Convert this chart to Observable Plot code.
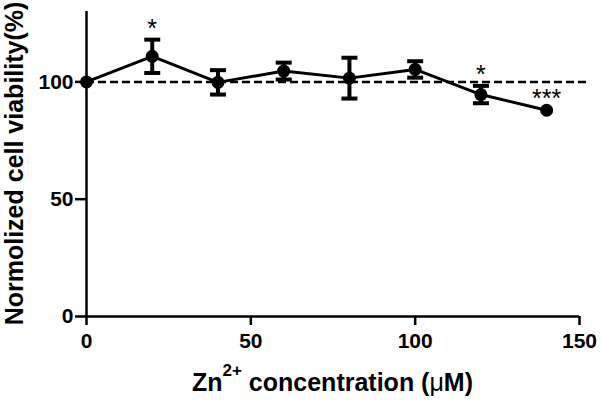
<!DOCTYPE html>
<html><head><meta charset="utf-8">
<script src="https://cdn.jsdelivr.net/npm/d3@7"></script>
<script src="https://cdn.jsdelivr.net/npm/@observablehq/plot@0.6"></script>
<style>body{margin:0;background:#fff;}</style>
</head><body><div id="chart"></div>
<script>
const concentrations = [0, 20, 40, 60, 80, 100, 120, 140];
const viability = [100, 110.9, 99.8, 104.6, 101.6, 105.3, 94.6, 87.9];
const sdValues = [0, 7.1, 5.2, 3.6, 8.7, 3.5, 3.7, 0];
const starX = [20, 120, 140];
const starLabels = ["*", "*", "***"];
const xTicks = [0, 50, 100, 150];
const yTicks = [0, 50, 100];
const refValue = 100;
const refStart = 0;
const refEnd = 152.5;
const yLabel = "Normolized cell viability(%)";
const xLabelMain = "Zn";
const xLabelSup = "2+";
const xLabelRest = " concentration (";
const xLabelMu = "\u03bc";
const xLabelEnd = "M)";

const data = concentrations.map((x, i) => ({x, y: viability[i], sd: sdValues[i]}));
const errData = data.filter(d => d.sd > 0);
const stars = starX.map((x, i) => {
  const d = data.find(e => e.x === x);
  return {x, y: d.y + d.sd, label: starLabels[i]};
});
const cap = {draw(ctx, size) { const w = Math.sqrt(size / Math.PI); ctx.moveTo(-w, 0); ctx.lineTo(w, 0); }};

const plot = Plot.plot({
  width: 601, height: 401,
  marginLeft: 86, marginRight: 22, marginTop: 11, marginBottom: 85,
  style: {fontFamily: "'Liberation Sans', Arial, sans-serif", fontSize: "21px", fontWeight: "bold", background: "#fff", color: "#000"},
  x: {domain: [0, 150]},
  y: {domain: [0, 130]},
  marks: [
    Plot.ruleY([refValue], {x1: refStart, x2: refEnd, stroke: "#000", strokeWidth: 2.5, strokeDasharray: "8,4"}),
    Plot.axisX({ticks: xTicks, tickSize: 9, tickPadding: 8, strokeWidth: 2.5, label: null, fontSize: 21, fontWeight: "bold"}),
    Plot.axisY({ticks: yTicks, tickSize: 11, tickPadding: 2, strokeWidth: 2.5, label: null, fontSize: 21, fontWeight: "bold"}),
    Plot.ruleX([0], {stroke: "#000", strokeWidth: 2.5}),
    Plot.ruleY([0], {stroke: "#000", strokeWidth: 2.5}),
    Plot.ruleX(errData, {x: "x", y1: d => d.y - d.sd, y2: d => d.y + d.sd, stroke: "#000", strokeWidth: 4}),
    Plot.dot(errData, {x: "x", y: d => d.y + d.sd, symbol: cap, r: 8, stroke: "#000", strokeWidth: 4}),
    Plot.dot(errData, {x: "x", y: d => d.y - d.sd, symbol: cap, r: 8, stroke: "#000", strokeWidth: 4}),
    Plot.line(data, {x: "x", y: "y", stroke: "#000", strokeWidth: 3}),
    Plot.dot(data, {x: "x", y: "y", r: 6.5, fill: "#000"}),
    Plot.text(stars, {x: "x", y: "y", text: "label", dy: -11, fontSize: 25, fontWeight: "normal", fill: "#000"})
  ]
});

const svg = d3.select(plot);
svg.append("text")
  .attr("transform", "translate(23,163.5) rotate(-90)")
  .attr("text-anchor", "middle")
  .attr("font-size", 25)
  .attr("font-weight", "bold")
  .attr("fill", "#000")
  .text(yLabel);
const xl = svg.append("text")
  .attr("x", 332.5).attr("y", 391)
  .attr("text-anchor", "middle")
  .attr("font-size", 25)
  .attr("font-weight", "bold")
  .attr("fill", "#000");
xl.append("tspan").text(xLabelMain);
xl.append("tspan").attr("dy", -15).attr("font-size", 17).text(xLabelSup);
xl.append("tspan").attr("dy", 15).text(xLabelRest);
xl.append("tspan").attr("font-weight", "normal").text(xLabelMu);
xl.append("tspan").text(xLabelEnd);

document.getElementById("chart").appendChild(plot);
</script>
</body></html>
